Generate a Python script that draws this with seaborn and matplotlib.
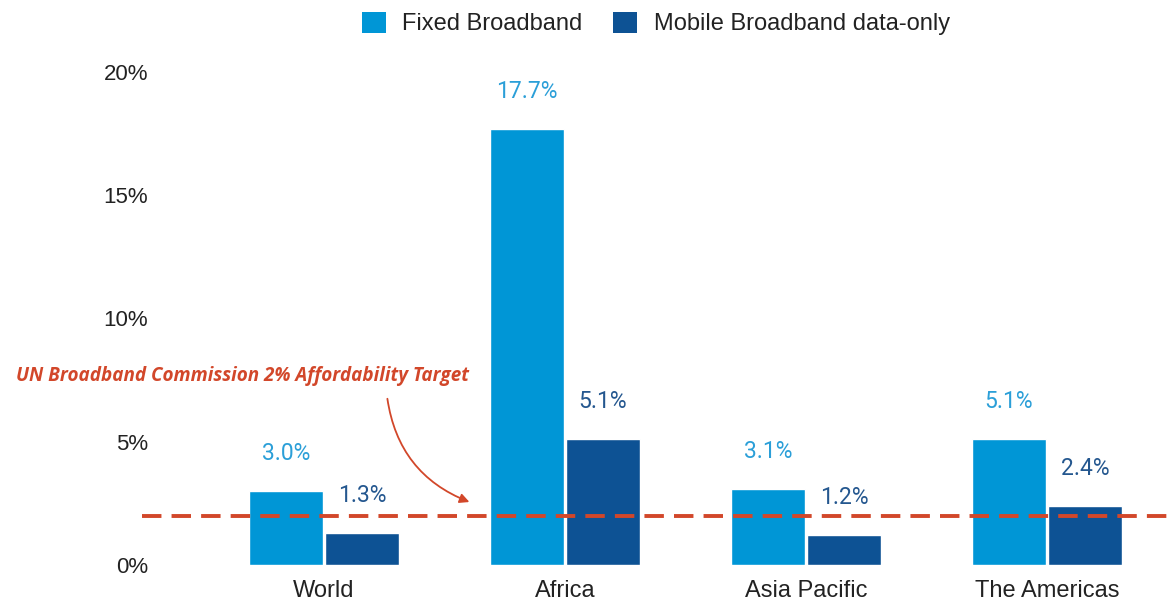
import pandas as pd
import numpy as np
import seaborn as sns
import matplotlib.pyplot as plt
from matplotlib.patches import Patch

regions = ['World', 'Africa', 'Asia Pacific', 'The Americas']
fixed_bb = [3.0, 17.7, 3.1, 5.1]
mobile_bb = [1.3, 5.1, 1.2, 2.4]
series_names = ['Fixed Broadband', 'Mobile Broadband data-only']
y_ticks = [0, 5, 10, 15, 20]
target = 2.0
target_label = 'UN Broadband Commission 2% Affordability Target'

df = pd.DataFrame({
    'region': regions * 2,
    'value': fixed_bb + mobile_bb,
    'type': [series_names[0]] * 4 + [series_names[1]] * 4,
})

bar_colors = ['#0096d6', '#0d5294']
label_colors = ['#2b9fd8', '#24578f']
red = '#d2472a'

sns.set_style('white')
plt.rcParams['font.family'] = ['Liberation Sans', 'DejaVu Sans']

fig = plt.figure(figsize=(11.69, 6.05), dpi=100)
ax = fig.add_axes([155 / 1169, 40 / 605, (1169 - 155) / 1169, (565 - 72) / 605])

sns.barplot(data=df, x='region', y='value', hue='type', palette=bar_colors,
            width=0.631, gap=0.03, saturation=1, ax=ax, legend=False)

ax.set_xlim((155 - 324) / 241, (1169 - 324) / 241)
ax.set_ylim(0, 20)
ax.set_yticks(y_ticks)
ax.set_yticklabels([f'{t}%' for t in y_ticks], fontsize=16, color='#222222')
ax.tick_params(axis='y', length=0, pad=5)
ax.tick_params(axis='x', length=0, pad=11, labelsize=17, labelcolor='#222222')
ax.set_xlabel('')
ax.set_ylabel('')
sns.despine(ax=ax, left=True, bottom=True)

# value labels
for i, cont in enumerate(ax.containers):
    for bar, v in zip(cont, [fixed_bb, mobile_bb][i]):
        ax.annotate(f'{v:.1f}%', (bar.get_x() + bar.get_width() / 2, v),
                    xytext=(0, 27), textcoords='offset points',
                    ha='center', va='center', fontsize=16.5,
                    color=label_colors[i], family=['Roboto', 'DejaVu Sans'])

# target line
ax.axhline(target, xmin=(142 - 155) / (1169 - 155), xmax=1, color=red,
           lw=2.8, dashes=(5, 2.6), clip_on=False, zorder=5)

fig.text(243 / 1169, 1 - 376 / 605, target_label, ha='center', va='center',
         fontsize=13.6, fontweight='bold', fontstyle='italic', color=red,
         family=['Open Sans', 'DejaVu Sans'])

ax.annotate('', xy=(472, 605 - 503), xycoords='figure pixels',
            xytext=(387, 605 - 396), textcoords='figure pixels',
            arrowprops=dict(arrowstyle='-|>', color=red, lw=1.3,
                            mutation_scale=14,
                            connectionstyle='arc3,rad=0.3'))

handles = [Patch(facecolor=c, edgecolor='none') for c in bar_colors]
fig.legend(handles, series_names, loc='upper center',
           bbox_to_anchor=(656 / 1169, 1.0), ncol=2, frameon=False,
           fontsize=17, handlelength=1.0, handleheight=1.0,
           handletextpad=0.7, columnspacing=1.3, labelcolor='#222222',
           borderaxespad=0.1)

fig.savefig('out.png', dpi=100)
